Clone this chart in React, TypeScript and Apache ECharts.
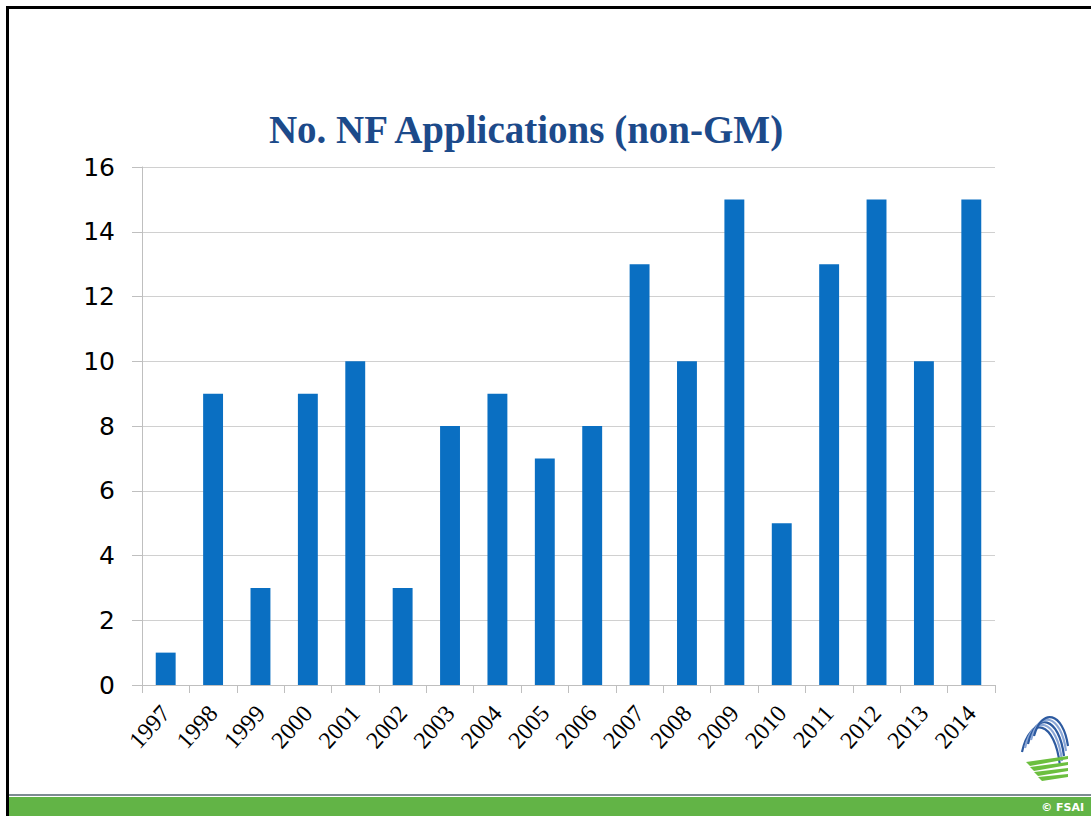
import React, { useEffect, useRef } from "react";
import * as echarts from "echarts";

const years = ["1997","1998","1999","2000","2001","2002","2003","2004","2005","2006","2007","2008","2009","2010","2011","2012","2013","2014"];
const applications = [1, 9, 3, 9, 10, 3, 8, 9, 7, 8, 13, 10, 15, 5, 13, 15, 10, 15];
const titleText = "No. NF Applications (non-GM)";
const footerText = "© FSAI";

export default function App() {
  const ref = useRef<HTMLDivElement>(null);
  useEffect(() => {
    document.body.style.margin = "0";
    const chart = echarts.init(ref.current!, null, { renderer: "svg" });
    const blueCurves = [0, 1, 2, 3, 4].map((i) => ({
      type: "bezierCurve",
      shape: {
        x1: 1022 + i * 3, y1: 752 - i * 4,
        x2: 1060 + i * 2, y2: 766 - i * 5,
        cpx1: 1030 + i * 3, cpy1: 715 - i * 2,
        cpx2: 1055 + i * 2, cpy2: 720 - i * 2,
      },
      style: { stroke: i % 2 === 0 ? "#2d5aa0" : "#8aa6d6", lineWidth: 2.2, fill: null },
    }));
    const greenStripes = [0, 1, 2, 3].map((i) => ({
      type: "polygon",
      shape: {
        points: [
          [1026 + i * 4, 762 + i * 5],
          [1068, 756 + i * 6],
          [1068, 759 + i * 6],
          [1030 + i * 4, 766 + i * 5],
        ],
      },
      style: { fill: "#6cbf3f" },
    }));
    chart.setOption({
      animation: false,
      backgroundColor: "#ffffff",
      title: {
        text: titleText,
        left: 521,
        textAlign: "center",
        top: 105,
        textStyle: {
          fontFamily: "Liberation Serif",
          fontWeight: "bold",
          fontSize: 39,
          color: "#1c4a8a",
        },
      },
      grid: { left: 142, right: 96, top: 167, bottom: 131, containLabel: false },
      xAxis: {
        type: "category",
        data: years,
        axisLine: { show: true, lineStyle: { color: "#bfbfbf", width: 1 } },
        axisTick: { show: true, length: 8, lineStyle: { color: "#bfbfbf" } },
        axisLabel: {
          rotate: 48,
          margin: 24,
          fontFamily: "Liberation Serif",
          fontSize: 24,
          color: "#000000",
          interval: 0,
        },
      },
      yAxis: {
        type: "value",
        min: 0,
        max: 16,
        interval: 2,
        axisLine: { show: true, lineStyle: { color: "#bfbfbf", width: 1 } },
        axisTick: { show: true, length: 10, lineStyle: { color: "#bfbfbf" } },
        splitLine: { show: true, lineStyle: { color: "#d0d0d0", width: 1 } },
        axisLabel: {
          margin: 27,
          fontFamily: "DejaVu Sans",
          fontSize: 25,
          color: "#000000",
        },
      },
      series: [
        {
          type: "bar",
          data: applications,
          barWidth: "42%",
          itemStyle: { color: "#0a6fc2" },
        },
      ],
      graphic: [
        { type: "rect", shape: { x: 6, y: 6, width: 1085, height: 3 }, style: { fill: "#000000" } },
        { type: "rect", shape: { x: 6, y: 6, width: 3, height: 810 }, style: { fill: "#000000" } },
        { type: "rect", shape: { x: 9, y: 794, width: 1082, height: 2 }, style: { fill: "#7d8c91" } },
        { type: "rect", shape: { x: 9, y: 797, width: 1082, height: 19 }, style: { fill: "#62b446" } },
        {
          type: "text",
          style: {
            text: footerText,
            x: 1084,
            y: 807,
            textAlign: "right",
            textVerticalAlign: "middle",
            fill: "#ffffff",
            fontFamily: "DejaVu Sans",
            fontWeight: "bold",
            fontSize: 11,
          },
        },
        ...blueCurves,
        ...greenStripes,
      ],
    });
    return () => chart.dispose();
  }, []);
  return (
    <div
      ref={ref}
      style={{ position: "fixed", left: 0, top: 0, width: 1091, height: 816 }}
    />
  );
}
